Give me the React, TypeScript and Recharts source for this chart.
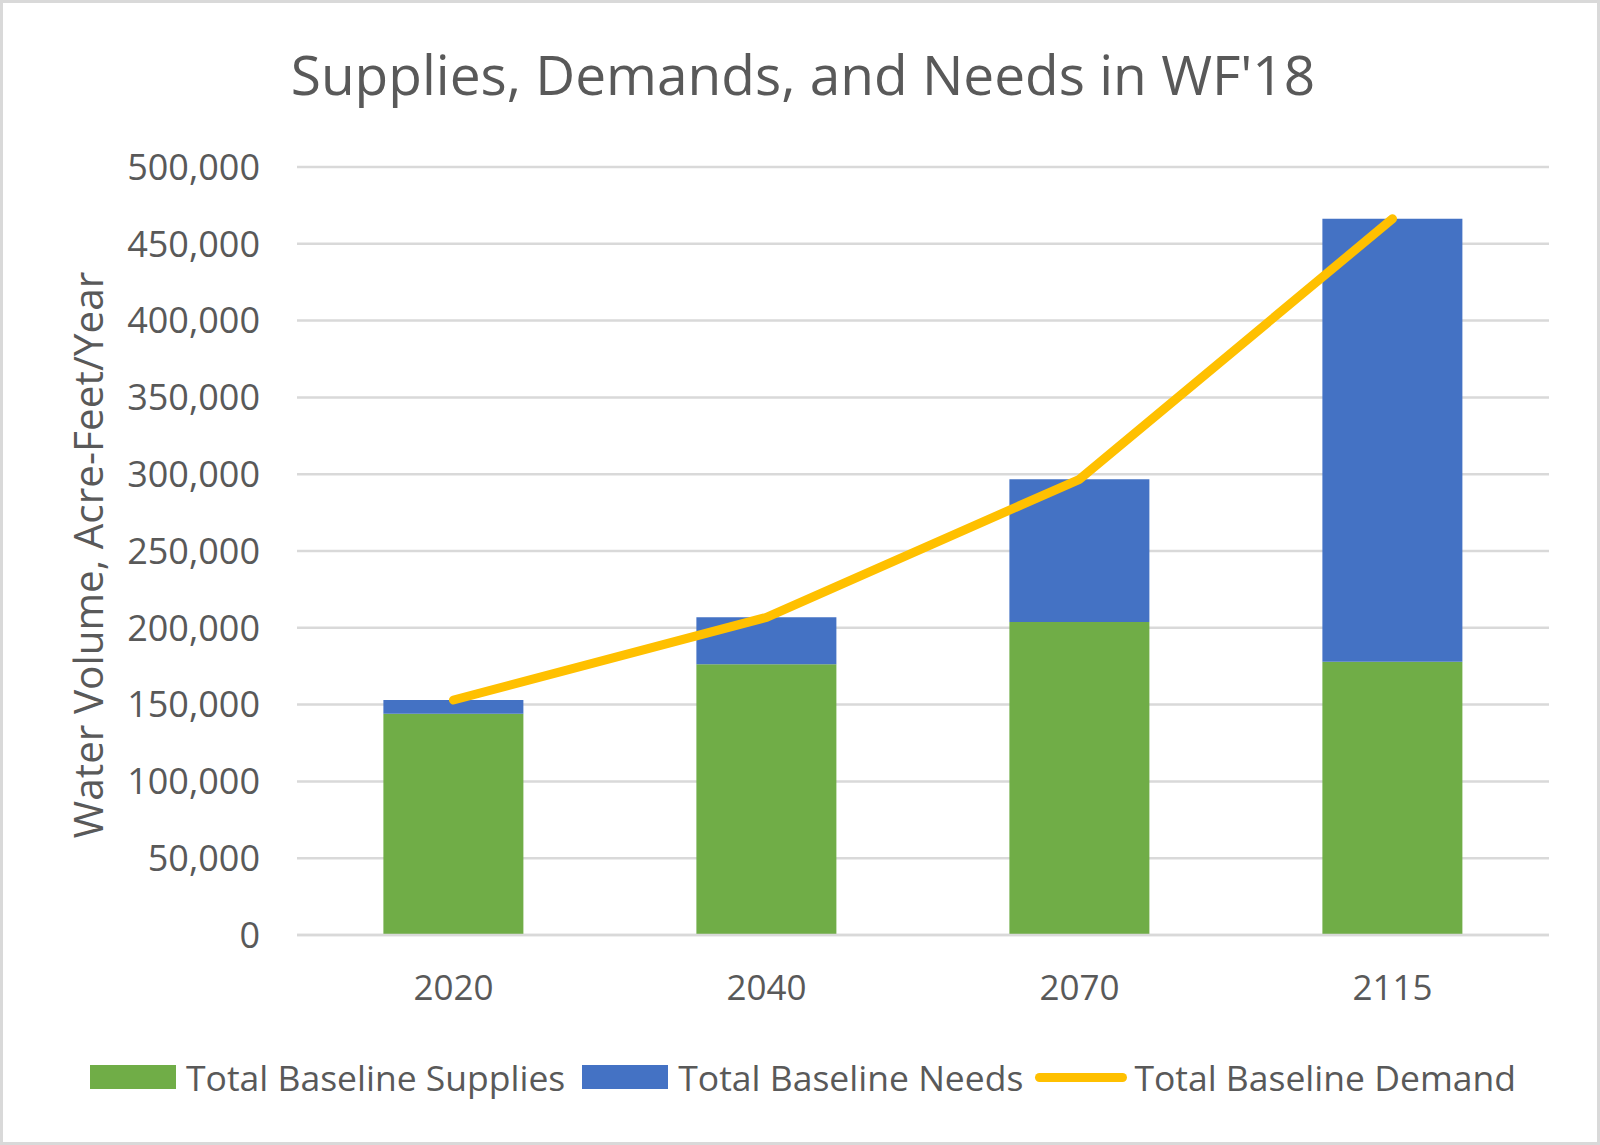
import { ComposedChart, Bar, Line, XAxis, YAxis, CartesianGrid } from "recharts"

const years = ["2020", "2040", "2070", "2115"]
const supplies = [144100, 176200, 203800, 177900]
const needs = [8900, 30600, 92900, 288400]
const demand = [153000, 206800, 296700, 466300]
const yTicks = [0, 50000, 100000, 150000, 200000, 250000, 300000, 350000, 400000, 450000, 500000]

const FONT = "'Open Sans', sans-serif"
const TEXT = "#595959"
const GREEN = "#70AD47"
const BLUE = "#4472C4"
const GOLD = "#FFC000"

const data = years.map((year, i) => ({
  year,
  supplies: supplies[i],
  needs: needs[i],
  demand: demand[i],
}))

function LegendRow() {
  const item = (swatch: React.ReactNode, label: string, gap: number, after: number) => (
    <div style={{ display: "flex", alignItems: "center", marginRight: after }}>
      {swatch}
      <span style={{ marginLeft: gap }}>{label}</span>
    </div>
  )
  return (
    <div
      style={{
        position: "absolute",
        left: 0,
        top: 1050,
        width: 1600,
        display: "flex",
        justifyContent: "center",
        fontFamily: FONT,
        fontSize: 35.5,
        color: TEXT,
      }}
    >
      {item(<div style={{ width: 86, height: 24, background: GREEN }} />, "Total Baseline Supplies", 10, 17)}
      {item(<div style={{ width: 86, height: 24, background: BLUE }} />, "Total Baseline Needs", 10, 12)}
      {item(<div style={{ width: 92, height: 9, borderRadius: 5, background: GOLD }} />, "Total Baseline Demand", 7, 0)}
    </div>
  )
}

export default function App() {
  return (
    <div
      style={{
        position: "absolute",
        left: 0,
        top: 0,
        width: 1600,
        height: 1145,
        boxSizing: "border-box",
        border: "3px solid #d9d9d9",
        background: "#fff",
      }}
    >
      <div
        style={{
          position: "absolute",
          left: 0,
          top: 33,
          width: 1600,
          textAlign: "center",
          fontFamily: FONT,
          fontSize: 55,
          color: TEXT,
        }}
      >
        Supplies, Demands, and Needs in WF'18
      </div>
      <div style={{ position: "absolute", left: -3, top: -3 }}>
        <ComposedChart
          width={1600}
          height={1145}
          data={data}
          margin={{ top: 167, right: 51, bottom: 150, left: 0 }}
          barCategoryGap="27.6%"
        >
          <CartesianGrid vertical={false} stroke="#d9d9d9" strokeWidth={2.5} />
          <XAxis
            dataKey="year"
            height={60}
            axisLine={{ stroke: "#d9d9d9", strokeWidth: 2.5 }}
            tickLine={false}
            tickSize={0}
            tickMargin={40}
            tick={{ fill: TEXT, fontSize: 35, fontFamily: FONT }}
          />
          <YAxis
            width={297}
            domain={[0, 500000]}
            ticks={yTicks}
            interval={0}
            axisLine={false}
            tickLine={false}
            tickSize={0}
            tickMargin={37}
            tickFormatter={(v: number) => v.toLocaleString("en-US")}
            tick={{ fill: TEXT, fontSize: 36, fontFamily: FONT }}
            label={{
              content: () => (
                <text
                  x={87}
                  y={555}
                  transform="rotate(-90 87 555)"
                  textAnchor="middle"
                  dominantBaseline="central"
                  fill={TEXT}
                  fontSize={40.5}
                  fontFamily={FONT}
                >
                  Water Volume, Acre-Feet/Year
                </text>
              ),
            }}
          />
          <Bar dataKey="supplies" stackId="a" fill={GREEN} isAnimationActive={false} />
          <Bar dataKey="needs" stackId="a" fill={BLUE} isAnimationActive={false} />
          <Line
            dataKey="demand"
            type="linear"
            stroke={GOLD}
            strokeWidth={9}
            strokeLinecap="round"
            strokeLinejoin="round"
            dot={false}
            activeDot={false}
            isAnimationActive={false}
          />
        </ComposedChart>
      </div>
      <LegendRow />
    </div>
  )
}
